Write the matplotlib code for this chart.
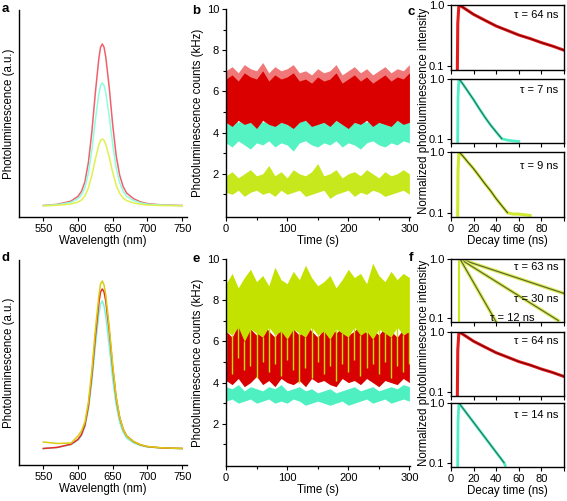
import numpy as np
import matplotlib
matplotlib.use("Agg")
import matplotlib.pyplot as plt
from matplotlib.ticker import MultipleLocator, FixedLocator, NullLocator, NullFormatter

plt.rcParams['font.family'] = ['Liberation Sans', 'DejaVu Sans']
plt.rcParams['font.size'] = 8

# ---- spectra (a, d) ----
wl = [550, 570, 590, 600, 605, 610, 615, 620, 625, 630, 632.5, 635, 637.5,
      640, 645, 650, 655, 660, 665, 670, 680, 690, 700, 720, 750]
a_red = [0.005, 0.016, 0.049, 0.097, 0.146, 0.243, 0.437, 0.745, 1.134, 1.474, 1.588, 1.62, 1.588,
         1.490, 1.183, 0.810, 0.502, 0.308, 0.194, 0.130, 0.073, 0.041, 0.024, 0.011, 0.005]
a_cyan = [0.004, 0.012, 0.037, 0.074, 0.111, 0.185, 0.332, 0.566, 0.861, 1.119, 1.205, 1.23, 1.205,
          1.132, 0.898, 0.615, 0.381, 0.234, 0.148, 0.098, 0.055, 0.031, 0.018, 0.009, 0.004]
a_yel = [0.002, 0.007, 0.020, 0.040, 0.060, 0.101, 0.181, 0.308, 0.469, 0.610, 0.657, 0.67, 0.657,
         0.616, 0.489, 0.335, 0.208, 0.127, 0.080, 0.054, 0.030, 0.017, 0.010, 0.005, 0.002]
d_yel = [0.07, 0.055, 0.06, 0.13, 0.18, 0.27, 0.47, 0.79, 1.19, 1.53, 1.65, 1.68, 1.64,
         1.54, 1.22, 0.84, 0.52, 0.32, 0.20, 0.13, 0.075, 0.042, 0.025, 0.012, 0.005]
d_red = [0.005, 0.016, 0.048, 0.096, 0.145, 0.240, 0.432, 0.737, 1.122, 1.459, 1.572, 1.60, 1.572,
         1.480, 1.180, 0.815, 0.510, 0.315, 0.198, 0.132, 0.074, 0.041, 0.024, 0.011, 0.005]
d_cyan = [0.004, 0.015, 0.044, 0.089, 0.133, 0.222, 0.400, 0.681, 1.036, 1.347, 1.45, 1.48, 1.43,
          1.33, 1.03, 0.70, 0.44, 0.27, 0.17, 0.11, 0.062, 0.035, 0.02, 0.01, 0.004]

# ---- time traces (b, e), envelope read every 10 s ----
t = np.arange(0, 301, 10)
b_red_hi = [7.0, 7.2, 6.9, 7.3, 7.1, 7.0, 7.4, 6.9, 7.2, 7.0, 7.1, 7.3, 6.9, 7.0, 6.8, 7.1,
            6.9, 7.0, 7.3, 6.8, 7.0, 7.2, 6.9, 7.1, 6.8, 7.0, 7.2, 6.9, 7.1, 7.0, 7.3]
b_red_top = [6.6, 6.8, 6.5, 6.9, 6.7, 6.6, 7.0, 6.5, 6.8, 6.6, 6.7, 6.9, 6.5, 6.6, 6.4, 6.7,
             6.5, 6.6, 6.9, 6.4, 6.6, 6.8, 6.5, 6.7, 6.4, 6.6, 6.8, 6.5, 6.7, 6.6, 6.9]
b_red_lo = [4.5, 4.3, 4.6, 4.4, 4.5, 4.2, 4.6, 4.4, 4.3, 4.5, 4.4, 4.2, 4.5, 4.6, 4.3, 4.4,
            4.5, 4.3, 4.6, 4.4, 4.2, 4.5, 4.4, 4.6, 4.3, 4.5, 4.4, 4.3, 4.6, 4.4, 4.5]
b_cyan_hi = [4.6, 4.7, 4.5, 4.8, 4.6, 4.7, 4.5, 4.6, 4.8, 4.5, 4.7, 4.6, 4.5, 4.7, 4.6, 4.8,
             4.5, 4.6, 4.7, 4.5, 4.6, 4.8, 4.6, 4.5, 4.7, 4.6, 4.5, 4.7, 4.6, 4.8, 4.6]
b_cyan_lo = [3.5, 3.3, 3.6, 3.4, 3.2, 3.5, 3.4, 3.6, 3.3, 3.5, 3.4, 3.1, 3.5, 3.6, 3.4, 3.3,
             3.5, 3.4, 3.6, 3.3, 3.5, 3.4, 3.2, 3.5, 3.6, 3.4, 3.3, 3.5, 3.4, 3.6, 3.5]
b_yel_hi = [1.9, 2.1, 1.8, 2.0, 2.2, 1.9, 2.0, 2.4, 1.9, 2.1, 1.8, 2.2, 2.0, 1.9, 2.1, 2.5,
            1.9, 2.0, 2.2, 1.8, 2.0, 2.1, 1.9, 2.2, 2.0, 1.8, 2.1, 1.9, 2.0, 2.2, 2.0]
b_yel_lo = [1.1, 1.0, 1.2, 0.9, 1.1, 1.2, 1.0, 1.1, 0.9, 1.2, 1.0, 1.1, 1.2, 0.9, 1.0, 1.1,
            1.2, 0.8, 1.0, 1.1, 1.2, 0.9, 1.1, 1.0, 1.2, 1.1, 0.9, 1.0, 1.1, 1.2, 1.0]

e_yel_hi = [8.8, 9.3, 8.6, 9.1, 9.5, 8.9, 9.2, 8.7, 9.6, 9.0, 8.8, 9.4, 9.0, 9.7, 9.1, 8.7,
            8.9, 9.2, 8.6, 9.0, 9.5, 9.1, 9.3, 8.8, 9.8, 9.2, 8.9, 9.4, 9.0, 9.3, 9.1]
e_yel_lo = [6.5, 6.3, 6.7, 6.0, 6.6, 6.4, 6.2, 6.7, 6.3, 6.5, 6.1, 6.6, 6.4, 6.2, 6.7, 6.3,
            6.5, 6.1, 6.6, 6.4, 6.2, 6.7, 6.3, 6.5, 6.1, 6.6, 6.4, 6.2, 6.7, 6.3, 6.5]
e_yel_min = [5.0, 4.4, 5.2, 4.6, 4.8, 4.2, 5.0, 4.5, 4.9, 4.3, 5.1, 4.6, 4.0, 4.7, 4.2, 5.0,
             4.4, 4.8, 4.1, 4.9, 4.5, 5.1, 4.3, 4.7, 4.9, 4.4, 5.0, 4.2, 4.8, 4.5, 4.9]
e_red_hi = [6.5, 6.2, 6.8, 6.4, 6.6, 6.3, 6.9, 6.5, 6.2, 6.7, 6.4, 6.6, 6.3, 6.8, 6.5, 6.2,
            6.6, 6.9, 6.4, 6.7, 6.3, 6.5, 6.8, 6.4, 6.6, 6.3, 6.7, 6.5, 6.2, 6.6, 6.4]
e_red_lo = [4.1, 3.9, 4.2, 3.8, 4.0, 4.3, 3.9, 4.1, 3.8, 4.2, 4.0, 3.9, 4.1, 3.8, 4.2, 4.0,
            4.1, 3.9, 3.8, 4.2, 4.0, 4.1, 3.9, 4.2, 4.0, 3.8, 4.1, 4.0, 3.9, 4.2, 4.0]
e_cyan_hi = [3.8, 3.7, 3.9, 3.6, 3.8, 3.7, 3.6, 3.8, 3.7, 3.9, 3.6, 3.7, 3.8, 3.6, 3.7, 3.5,
             3.6, 3.7, 3.5, 3.6, 3.7, 3.8, 3.6, 3.7, 3.8, 3.6, 3.7, 3.8, 3.7, 3.9, 3.8]
e_cyan_lo = [3.1, 3.2, 3.0, 3.1, 3.2, 3.0, 3.1, 3.2, 3.0, 3.1, 3.0, 3.2, 3.1, 2.9, 3.0, 3.1,
             3.0, 2.9, 3.0, 3.1, 2.9, 3.0, 3.1, 3.2, 3.0, 3.1, 3.2, 3.0, 3.1, 3.2, 3.1]

# ---- decays (c, f) ----
red_t = [5.5, 6.0, 7, 10, 20, 30, 40, 50, 60, 70, 80, 90, 100]
red_v = [0.05, 0.5, 1.0, 0.93, 0.70, 0.56, 0.45, 0.38, 0.32, 0.28, 0.24, 0.21, 0.18]
cy7_t = [5.8, 6.2, 7, 10, 15, 20, 25, 30, 35, 40, 45, 50, 55, 60]
cy7_v = [0.05, 0.5, 1.0, 0.85, 0.62, 0.45, 0.32, 0.23, 0.17, 0.13, 0.10, 0.095, 0.092, 0.09]
ye9_t = [5.8, 6.2, 7, 10, 15, 20, 25, 30, 35, 40, 45, 50, 55, 60, 70]
ye9_v = [0.05, 0.5, 1.0, 0.88, 0.68, 0.53, 0.40, 0.30, 0.23, 0.17, 0.13, 0.10, 0.095, 0.095, 0.09]
f63_t = [8, 100]
f63_v = [1.0, 0.26]
f30_t = [8, 95]
f30_v = [1.0, 0.09]
f12_t = [8, 40]
f12_v = [1.0, 0.085]
cy14_t = [5.8, 6.2, 7, 47, 48]
cy14_v = [0.05, 0.5, 1.0, 0.1, 0.09]

W, H = 567, 501
fig = plt.figure(figsize=(W / 100, H / 100), dpi=100)


def px_axes(l, t_, r, b):
    return fig.add_axes([l / W, 1 - b / H, (r - l) / W, (b - t_) / H])


def plain(ax):
    ax.spines['top'].set_visible(False)
    ax.spines['right'].set_visible(False)
    for s in ax.spines.values():
        s.set_linewidth(1.0)
    ax.tick_params(direction='out', length=3, width=0.8, labelsize=8, pad=2)
    ax.tick_params(which='minor', direction='out', length=2, width=0.8)


# spectra panels
for (top, bot, curves, ylim) in [(10, 217, [(a_red, '#f0606c'), (a_cyan, '#8cffdc'), (a_yel, '#e0f050')], (-0.11, 1.96)),
                                 (260, 465, [(d_cyan, '#7af2dc'), (d_red, '#e82a2a'), (d_yel, '#d8cc10')], (-0.16, 1.89))]:
    ax = px_axes(19, top, 187, bot)
    plain(ax)
    for y, c in curves:
        ax.plot(wl, y, color=c, lw=1.1)
    ax.set_xlim(515, 757)
    ax.set_ylim(*ylim)
    ax.set_yticks([])
    ax.xaxis.set_major_locator(MultipleLocator(50))
    ax.set_xlabel('Wavelength (nm)', fontsize=8.3, labelpad=1)
    ax.set_ylabel('Photoluminescence (a.u.)', fontsize=8.3, labelpad=3)

# time trace b
axb = px_axes(226, 9, 410, 217)
axb.fill_between(t, b_cyan_lo, b_cyan_hi, color='#55f2c4', lw=0)
axb.fill_between(t, b_red_lo, b_red_hi, color='#f07878', lw=0)
axb.fill_between(t, b_red_lo, b_red_top, color='#da0000', lw=0)
axb.fill_between(t, b_yel_lo, b_yel_hi, color='#c8e81e', lw=0)

# time trace e
axe = px_axes(226, 259, 410, 466)
axe.fill_between(t, e_cyan_lo, e_cyan_hi, color='#4ef0c2', lw=0)
axe.fill_between(t, e_red_lo, e_red_hi, color='#d80000', lw=0)
axe.fill_between(t, e_yel_lo, e_yel_hi, color='#c4e200', lw=0)
axe.vlines(t, e_yel_min, e_yel_lo, color='#c4e200', lw=1.0)

for ax, ylo in [(axb, -0.1), (axe, -0.05)]:
    plain(ax)
    ax.set_xlim(0, 301)
    ax.set_ylim(ylo, 10.0)
    ax.set_yticks([2, 4, 6, 8, 10])
    ax.yaxis.set_minor_locator(FixedLocator([1, 3, 5, 7, 9]))
    ax.set_xticks([0, 100, 200, 300])
    ax.xaxis.set_minor_locator(FixedLocator([50, 150, 250]))
    ax.set_xlabel('Time (s)', fontsize=8.3, labelpad=1)
    ax.set_ylabel('Photoluminescence counts (kHz)', fontsize=8.3, labelpad=2)


def decay_ax(top, bot, last):
    ax = px_axes(451, top, 564, bot)
    ax.set_yscale('log')
    ax.set_ylim(0.085, 1.0)
    ax.set_xlim(0, 100)
    ax.set_yticks([0.1, 1.0])
    ax.set_yticklabels(['0.1', '1.0'])
    ax.yaxis.set_minor_locator(NullLocator())
    ax.yaxis.set_minor_formatter(NullFormatter())
    ax.set_xticks([0, 20, 40, 60, 80, 100])
    for s in ax.spines.values():
        s.set_linewidth(1.0)
    ax.tick_params(direction='out', length=3, width=0.8, labelsize=8, pad=2)
    if not last:
        ax.set_xticklabels([])
    else:
        ax.set_xticklabels(['0', '20', '40', '60', '80', ''])
        ax.set_xlabel('Decay time (ns)', fontsize=8.3, labelpad=1)
    return ax


def tau(ax, x, y, s, ha='right'):
    ax.text(x, y, s, transform=ax.transAxes, ha=ha, va='center', fontsize=8)


# c
ax = decay_ax(5, 70, False)
ax.plot(red_t, red_v, color='#e41c1c', lw=2.2)
ax.plot(red_t[2:], red_v[2:], color='#7a0000', lw=0.8)
tau(ax, 0.95, 0.85, 'τ = 64 ns')
ax = decay_ax(79, 143, False)
ax.plot(cy7_t, cy7_v, color='#50eec6', lw=2.0)
ax.plot(cy7_t[2:11], cy7_v[2:11], color='#2a6e52', lw=0.8)
tau(ax, 0.95, 0.83, 'τ = 7 ns')
ax = decay_ax(152, 217, True)
ax.plot(ye9_t, ye9_v, color='#cfea30', lw=2.2)
ax.plot(ye9_t[2:12], ye9_v[2:12], color='#4d4d30', lw=0.8)
tau(ax, 0.95, 0.78, 'τ = 9 ns')

# f
ax = decay_ax(259, 322, False)
ax.plot([7, 7], [0.05, 1.0], color='#c8e820', lw=1.5)
for tt, vv in [(f63_t, f63_v), (f30_t, f30_v), (f12_t, f12_v)]:
    ax.plot(tt, vv, color='#dcf060', lw=2.6)
    ax.plot(tt, vv, color='#66662e', lw=0.9)
tau(ax, 0.95, 0.87, 'τ = 63 ns')
tau(ax, 0.95, 0.37, 'τ = 30 ns')
tau(ax, 0.54, 0.06, 'τ = 12 ns', ha='center')
ax = decay_ax(332, 396, False)
ax.plot(red_t, red_v, color='#e41c1c', lw=2.2)
ax.plot(red_t[2:], red_v[2:], color='#7a0000', lw=0.8)
tau(ax, 0.95, 0.86, 'τ = 64 ns')
ax = decay_ax(403, 467, True)
ax.plot(cy14_t, cy14_v, color='#50eec6', lw=2.0)
ax.plot(cy14_t[2:4], cy14_v[2:4], color='#2a6e52', lw=0.8)
tau(ax, 0.95, 0.81, 'τ = 14 ns')

for y in [111, 363]:
    fig.text(424 / W, 1 - y / H, 'Normalized photoluminescence intensity', rotation=90,
             ha='center', va='center', fontsize=8.3)

for s, x, y in [('a', 5, 9), ('b', 196, 11), ('c', 411, 12), ('d', 5, 258), ('e', 196, 259), ('f', 411, 258)]:
    fig.text(x / W, 1 - y / H, s, fontsize=9.5, fontweight='bold', ha='center', va='center')

fig.savefig('out.png', dpi=100)
